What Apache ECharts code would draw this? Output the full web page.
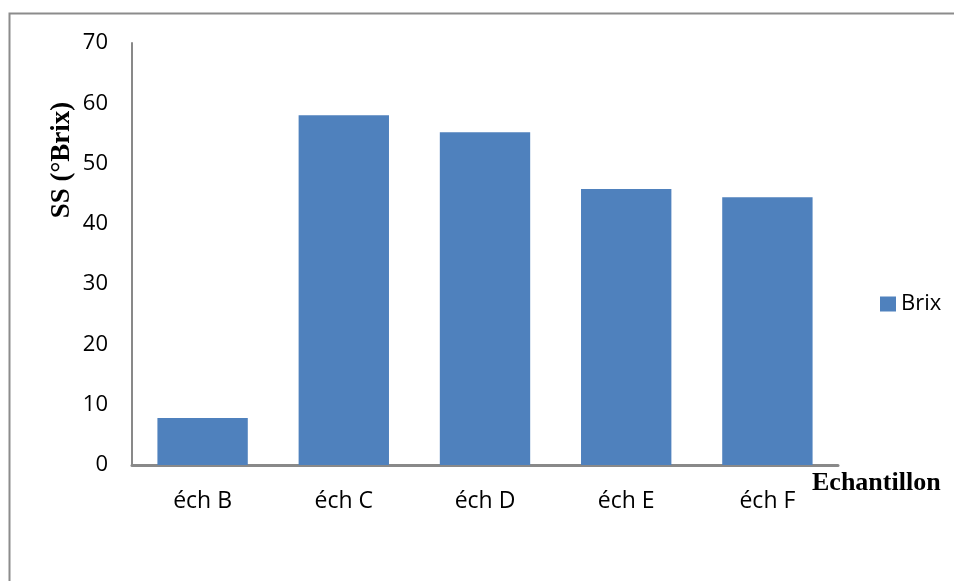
<!DOCTYPE html>
<html>
<head>
<meta charset="utf-8">
<script src="https://cdn.jsdelivr.net/npm/echarts@6/dist/echarts.min.js"></script>
<style>
  html, body { margin: 0; padding: 0; background: #fff; }
  #chart { width: 954px; height: 581px; }
</style>
</head>
<body>
<div id="chart"></div>
<script>
// données
const categories = ["éch B", "éch C", "éch D", "éch E", "éch F"];
const brix = [7.8, 58.0, 55.2, 45.8, 44.4];
const seriesName = "Brix";

const chart = echarts.init(document.getElementById("chart"));

const option = {
  animation: false,
  textStyle: { fontFamily: "Open Sans" },
  grid: { left: 132, right: 116, top: 43, bottom: 116 },
  legend: {
    data: [seriesName],
    left: 880,
    top: 293,
    padding: 0,
    orient: "vertical",
    icon: "rect",
    itemWidth: 16,
    itemHeight: 15,
    textStyle: { fontSize: 22, color: "#000", fontFamily: "Open Sans" },
  },
  // cadre gris autour du graphique
  graphic: [
    {
      type: "polyline",
      shape: { points: [[9.5, 581], [9.5, 13.5], [954, 13.5]] },
      style: { stroke: "#8c8c8c", lineWidth: 2, fill: null },
    },
    {
      type: "text",
      x: 62,
      y: 160,
      rotation: Math.PI / 2,
      style: {
        text: "SS (°Brix)",
        fontFamily: "Liberation Serif",
        fontWeight: "bold",
        fontSize: 27,
        fill: "#000",
        align: "center",
        verticalAlign: "middle",
      },
    },
  ],
  xAxis: {
    type: "category",
    data: categories,
    name: "Echantillon",
    nameLocation: "end",
    nameGap: -26,
    nameTextStyle: {
      fontFamily: "Liberation Serif",
      fontWeight: "bold",
      fontSize: 26,
      color: "#000",
      align: "left",
      verticalAlign: "top",
      padding: [5, 0, 0, 0],
    },
    axisLine: { lineStyle: { color: "#898989", width: 3 } },
    axisTick: { show: false },
    axisLabel: { fontSize: 23, color: "#000", margin: 25 },
  },
  yAxis: {
    type: "value",
    min: 0,
    max: 70,
    interval: 10,
    axisLine: { show: true, lineStyle: { color: "#898989", width: 2 } },
    axisTick: { show: false },
    splitLine: { show: false },
    axisLabel: { fontSize: 22, color: "#000", margin: 24 },
  },
  series: [
    {
      name: seriesName,
      type: "bar",
      data: brix,
      barCategoryGap: "36%",
      itemStyle: { color: "#4F81BD" },
    },
  ],
};

chart.setOption(option);
</script>
</body>
</html>
